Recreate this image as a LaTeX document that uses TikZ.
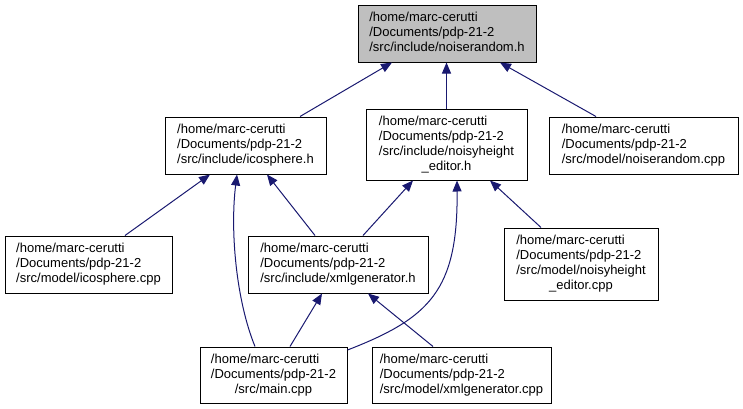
\documentclass[tikz,border=0pt]{standalone}
\usepackage{fontspec}
\setmainfont{Liberation Sans}
\usetikzlibrary{arrows.meta}
\definecolor{edgeblue}{RGB}{25,25,112}
\definecolor{rootgray}{RGB}{191,191,191}
\newcommand{\dlabel}[2]{\begin{tabular}{@{}l@{}}#1\\\multicolumn{1}{@{}c@{}}{#2}\end{tabular}}
\begin{document}
\begin{tikzpicture}[x=1pt,y=-1pt,
  box/.style={draw=black, line width=1pt, fill=white, inner sep=0pt,
    font=\fontsize{13}{15}\selectfont, text=black},
  dep/.style={draw=edgeblue, line width=1pt, -{Triangle[length=11pt,width=9pt]}}]
\useasboundingbox (0,0) rectangle (743,408);
\node[box, fill=rootgray, minimum width=178pt, minimum height=57pt] (A) at (447,33.5)
  {\dlabel{/home/marc-cerutti\\/Documents/pdp-21-2}{/src/include/noiserandom.h}};
\node[box, minimum width=161pt, minimum height=57pt] (B) at (245.5,145.5)
  {\dlabel{/home/marc-cerutti\\/Documents/pdp-21-2}{/src/include/icosphere.h}};
\node[box, minimum width=161pt, minimum height=71pt] (C) at (446.5,144.5)
  {\dlabel{/home/marc-cerutti\\/Documents/pdp-21-2\\/src/include/noisyheight}{\_editor.h}};
\node[box, minimum width=189pt, minimum height=57pt] (D) at (643.5,145.5)
  {\dlabel{/home/marc-cerutti\\/Documents/pdp-21-2}{/src/model/noiserandom.cpp}};
\node[box, minimum width=167pt, minimum height=57pt] (E) at (88.5,264.5)
  {\dlabel{/home/marc-cerutti\\/Documents/pdp-21-2}{/src/model/icosphere.cpp}};
\node[box, minimum width=180pt, minimum height=57pt] (F) at (338,264.5)
  {\dlabel{/home/marc-cerutti\\/Documents/pdp-21-2}{/src/include/xmlgenerator.h}};
\node[box, minimum width=154pt, minimum height=72pt] (G) at (581,264)
  {\dlabel{/home/marc-cerutti\\/Documents/pdp-21-2\\/src/model/noisyheight}{\_editor.cpp}};
\node[box, minimum width=147pt, minimum height=56pt] (H) at (273.5,375)
  {\dlabel{/home/marc-cerutti\\/Documents/pdp-21-2}{/src/main.cpp}};
\node[box, minimum width=179pt, minimum height=56pt] (I) at (461.5,375)
  {\dlabel{/home/marc-cerutti\\/Documents/pdp-21-2}{/src/model/xmlgenerator.cpp}};
\draw[dep] ([xshift=54.5pt]B.north) -- ([xshift=-55pt]A.south);
\draw[dep] (C.north) -- (C.north |- A.south);
\draw[dep] ([xshift=-47.5pt]D.north) -- ([xshift=53pt]A.south);
\draw[dep] ([xshift=36.5pt]E.north) -- ([xshift=-35.5pt]B.south);
\draw[dep] ([xshift=-23pt]F.north) -- ([xshift=21.5pt]B.south);
\draw[dep] ([xshift=-18.5pt]H.north) .. controls (236,300) and (230,230) .. ([xshift=-8.5pt]B.south);
\draw[dep] ([xshift=25pt]F.north) -- ([xshift=-33.5pt]C.south);
\draw[dep] ([yshift=25pt]H.east) .. controls (430,318) and (458,290) .. ([xshift=10.5pt]C.south);
\draw[dep] ([xshift=-40pt]G.north) -- ([xshift=43.5pt]C.south);
\draw[dep] ([xshift=16.5pt]H.north) -- ([xshift=-16pt]F.south);
\draw[dep] ([xshift=-28.5pt]I.north) -- ([xshift=30pt]F.south);
\end{tikzpicture}
\end{document}
